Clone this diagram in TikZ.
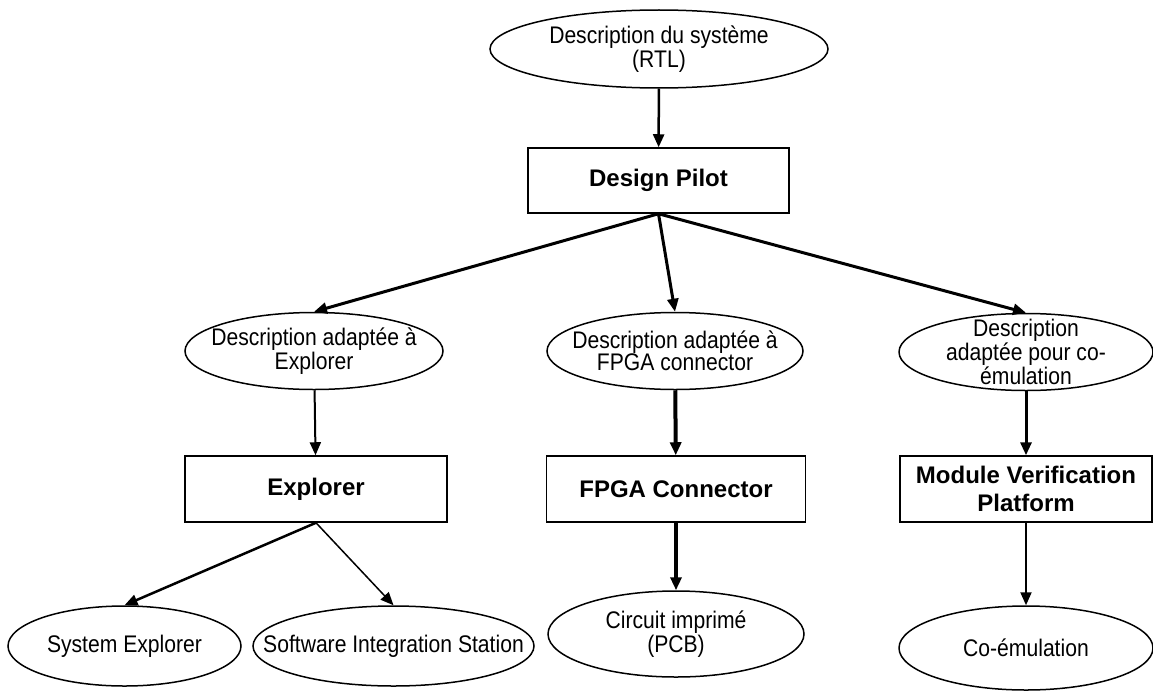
\documentclass[tikz,border=0pt]{standalone}
\usepackage{fontspec}
\setmainfont{Liberation Sans}
\newfontfamily\narrowfont{Liberation Sans}[FakeStretch=0.88]
\usepackage{tikz}
\usetikzlibrary{shapes.geometric, positioning, arrows.meta, calc}

\begin{document}
\begin{tikzpicture}[
    x=1pt, y=-1pt,
    tool/.style={
        draw, line width=1.5pt,
        align=center, inner sep=0pt,
        minimum width=260pt, minimum height=66pt,
        font=\fontsize{24}{28}\selectfont\bfseries,
    },
    desc/.style={
        ellipse, draw, line width=1.5pt,
        align=center, inner xsep=-45pt, inner ysep=-16pt,
        minimum width=256pt, minimum height=77pt,
        font=\narrowfont\fontsize{24}{22}\selectfont,
    },
    flow/.style={
        ->, >={Triangle[length=13pt,width=11pt]},
        line width=2.5pt,
    },
]
\useasboundingbox (0,0) rectangle (1153,693);

%--- Source description ---
\node[desc, minimum width=338pt, minimum height=78pt] (sys) at (659,49)
    {Description du système\\(RTL)};

%--- Design Pilot ---
\node[tool, minimum width=261pt, minimum height=65pt] (pilot) at (658.5,180.5) {Design Pilot};

%--- Adapted descriptions ---
\node[desc, minimum width=258pt] (dexp) at (314,351)
    {Description adaptée à\\Explorer};
\node[desc] (dfpga) at (675,351)
    {Description adaptée à\\FPGA connector};
\node[desc, minimum width=254pt] (dcoem) at (1026,352)
    {Description\\adaptée pour co-\\émulation};

%--- Tools ---
\node[tool, minimum width=262pt] (explorer) at (316,489) {Explorer};
\node[tool, minimum width=259pt] (fpga) at (676,489) {FPGA Connector};
\node[tool, minimum width=252pt] (mvp) at (1026,489) {Module Verification\\Platform};

%--- Targets ---
\node[desc, minimum width=233pt, minimum height=80pt] (sysexp) at (124.5,646) {System Explorer};
\node[desc, minimum width=281pt, minimum height=80pt] (sis) at (393.5,646) {Software Integration Station};
\node[desc, minimum height=86pt] (pcb) at (676,634) {Circuit imprimé\\(PCB)};
\node[desc, minimum width=254pt, minimum height=84pt] (coemul) at (1026,648) {Co-émulation};

%--- Connectors ---
\draw[flow] (sys) -- (pilot);
\draw[flow, line width=3pt] (pilot.south) -- (dexp.north);
\draw[flow, line width=3pt] (pilot.south) -- (dfpga.north);
\draw[flow, line width=3pt] (pilot.south) -- (dcoem.north);
\draw[flow, line width=2pt] (dexp) -- (explorer);
\draw[flow, line width=4pt] (dfpga) -- (fpga);
\draw[flow, line width=3pt] (dcoem) -- (mvp);
\draw[flow] (explorer.south) -- (sysexp.north);
\draw[flow, line width=1.5pt] (explorer.south) -- (sis.north);
\draw[flow, line width=4.5pt] (fpga) -- (pcb);
\draw[flow, line width=2pt] (mvp) -- (coemul);

\end{tikzpicture}
\end{document}
